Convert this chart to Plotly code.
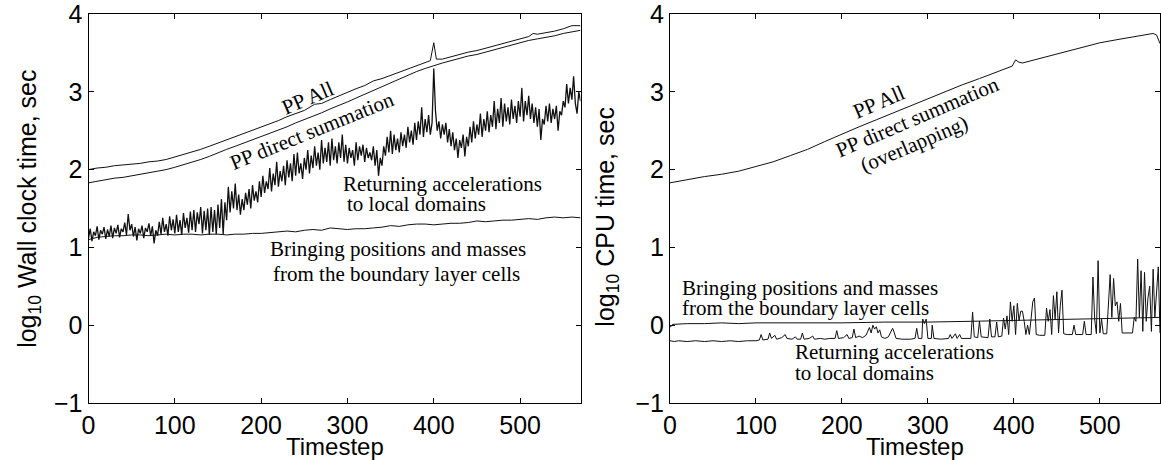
import plotly.graph_objects as go

# ---------------- Wall clock time (left panel) ----------------
wall_pp_all_t = [0, 10, 20, 30, 40, 50, 60, 70, 80, 90, 100, 110, 120, 130, 140, 150, 160, 170, 180, 190,
                 200, 210, 220, 230, 240, 250, 262, 270, 280, 290, 300, 310, 320, 330, 340, 350, 360, 370,
                 380, 390, 396, 400, 403, 410, 420, 430, 440, 450, 460, 470, 480, 490, 500, 510, 515, 520,
                 530, 540, 550, 560, 570]
wall_pp_all = [2.00, 2.02, 2.03, 2.05, 2.06, 2.07, 2.08, 2.10, 2.11, 2.13, 2.16, 2.19, 2.22, 2.26, 2.30, 2.34,
               2.38, 2.42, 2.46, 2.51, 2.55, 2.59, 2.63, 2.68, 2.72, 2.76, 2.84, 2.85, 2.90, 2.95, 2.99, 3.04,
               3.08, 3.14, 3.17, 3.21, 3.25, 3.29, 3.33, 3.37, 3.40, 3.63, 3.42, 3.42, 3.45, 3.48, 3.51, 3.53,
               3.56, 3.59, 3.62, 3.65, 3.68, 3.71, 3.75, 3.74, 3.76, 3.78, 3.81, 3.85, 3.85]

wall_direct_t = list(range(0, 571, 10))
wall_direct = [1.83, 1.85, 1.87, 1.89, 1.90, 1.92, 1.94, 1.96, 1.98, 2.00, 2.03, 2.06, 2.09, 2.13, 2.17, 2.22,
               2.26, 2.30, 2.34, 2.39, 2.43, 2.47, 2.51, 2.55, 2.60, 2.64, 2.69, 2.73, 2.78, 2.82, 2.87, 2.92,
               2.97, 3.02, 3.07, 3.12, 3.17, 3.21, 3.26, 3.30, 3.34, 3.37, 3.40, 3.43, 3.46, 3.48, 3.51, 3.54,
               3.57, 3.60, 3.63, 3.66, 3.68, 3.70, 3.72, 3.75, 3.77, 3.79]

wall_bring_t = list(range(0, 571, 10))
wall_bring = [1.10, 1.13, 1.14, 1.15, 1.15, 1.16, 1.16, 1.15, 1.16, 1.17, 1.16, 1.17, 1.17, 1.16, 1.17, 1.17,
              1.16, 1.17, 1.17, 1.18, 1.18, 1.19, 1.20, 1.21, 1.20, 1.22, 1.23, 1.22, 1.25, 1.24, 1.23, 1.24,
              1.24, 1.25, 1.26, 1.28, 1.27, 1.29, 1.30, 1.30, 1.29, 1.30, 1.31, 1.31, 1.32, 1.34, 1.33, 1.34,
              1.35, 1.35, 1.36, 1.37, 1.36, 1.38, 1.39, 1.38, 1.39, 1.38]

wall_return_t = list(range(0, 571, 2))
wall_return = [
    1.12, 1.24, 1.08, 1.20, 1.15, 1.27, 1.10, 1.22, 1.17, 1.26,
    1.11, 1.23, 1.14, 1.28, 1.12, 1.25, 1.18, 1.29, 1.13, 1.24,
    1.20, 1.32, 1.16, 1.43, 1.22, 1.30, 1.14, 1.26, 1.09, 1.24,
    1.18, 1.28, 1.12, 1.25, 1.20, 1.31, 1.15, 1.27, 1.05, 1.22,
    1.15, 1.33, 1.17, 1.38, 1.20, 1.30, 1.15, 1.40, 1.22, 1.36,
    1.18, 1.42, 1.20, 1.35, 1.16, 1.44, 1.25, 1.38, 1.19, 1.46,
    1.22, 1.48, 1.20, 1.45, 1.30, 1.52, 1.18, 1.47, 1.22, 1.50,
    1.16, 1.52, 1.20, 1.48, 1.17, 1.55, 1.25, 1.62, 1.17, 1.58,
    1.35, 1.78, 1.45, 1.72, 1.50, 1.82, 1.48, 1.68, 1.42, 1.62,
    1.48, 1.70, 1.55, 1.75, 1.50, 1.80, 1.60, 1.72, 1.58, 1.85,
    1.65, 1.92, 1.70, 1.85, 1.75, 2.02, 1.72, 1.95, 1.80, 2.10,
    1.78, 1.98, 1.85, 2.05, 1.80, 2.12, 1.90, 2.08, 1.85, 2.20,
    1.92, 2.22, 1.95, 2.08, 1.88, 2.15, 2.00, 2.25, 1.95, 2.18,
    2.02, 2.30, 2.05, 2.22, 2.00, 2.38, 2.08, 2.28, 2.10, 2.35,
    2.05, 2.40, 2.12, 2.30, 2.08, 2.35, 2.15, 2.45, 2.10, 2.32,
    2.08, 2.28, 2.15, 2.25, 2.05, 2.35, 2.12, 2.30, 2.18, 2.32,
    2.10, 2.28, 2.15, 2.22, 2.12, 2.30, 2.05, 2.25, 1.92, 2.15,
    2.05, 2.30, 2.18, 2.42, 2.22, 2.50, 2.20, 2.45, 2.25, 2.40,
    2.22, 2.48, 2.30, 2.45, 2.28, 2.55, 2.35, 2.50, 2.32, 2.60,
    2.38, 2.62, 2.45, 2.80, 2.42, 2.65, 2.48, 2.70, 2.45, 2.60,
    3.30, 2.75, 2.50, 2.62, 2.40, 2.58, 2.45, 2.60, 2.35, 2.52,
    2.30, 2.48, 2.25, 2.40, 2.15, 2.38, 2.28, 2.45, 2.17, 2.42,
    2.30, 2.55, 2.35, 2.62, 2.40, 2.58, 2.45, 2.72, 2.42, 2.65,
    2.50, 2.75, 2.48, 2.70, 2.55, 2.88, 2.52, 2.78, 2.60, 2.92,
    2.55, 2.85, 2.62, 2.80, 2.58, 2.90, 2.65, 2.82, 2.60, 2.88,
    2.68, 3.05, 2.62, 2.88, 2.70, 2.95, 2.65, 2.85, 2.60, 2.80,
    2.55, 2.78, 2.38, 2.65, 2.58, 2.82, 2.62, 2.85, 2.60, 2.78,
    2.65, 2.82, 2.50, 2.75, 2.70, 2.88, 2.80, 3.10, 2.85, 3.05,
    2.90, 3.20, 2.85, 2.72, 3.00, 2.88,
]

# ---------------- CPU time (right panel) ----------------
cpu_pp_t = [0, 20, 40, 60, 80, 100, 120, 140, 160, 180, 200, 220, 240, 260, 280, 300, 320, 340, 360, 380,
            398, 402, 406, 410, 420, 440, 460, 480, 500, 520, 540, 555, 562, 566, 568, 570]
cpu_pp = [1.83, 1.87, 1.91, 1.94, 1.98, 2.04, 2.10, 2.18, 2.26, 2.36, 2.46, 2.55, 2.64, 2.73, 2.82, 2.92,
          3.00, 3.09, 3.17, 3.25, 3.33, 3.41, 3.38, 3.37, 3.40, 3.45, 3.51, 3.57, 3.63, 3.67, 3.71, 3.74,
          3.75, 3.73, 3.68, 3.62]

cpu_bring_t = [0, 3, 20, 40, 60, 80, 100, 150, 200, 250, 300, 350, 400, 450, 500, 550, 570]
cpu_bring = [-0.03, 0.01, 0.02, 0.02, 0.03, 0.02, 0.03, 0.03, 0.03, 0.04, 0.04, 0.05, 0.06, 0.07, 0.08, 0.09, 0.10]

cpu_return_t = [0, 5, 10, 20, 30, 40, 50, 60, 70, 80, 90, 100, 104, 106, 108, 114, 116, 118, 122, 124,
                130, 134, 136, 142, 146, 148, 152, 154, 156, 162, 166, 168, 175, 180, 186, 192, 194, 196, 202, 206,
                208, 212, 214, 216, 220, 224, 228, 230, 232, 234, 236, 238, 240, 242, 244, 246, 250, 254, 257, 259,
                261, 263, 270, 280, 285, 287, 289, 293, 294, 296, 298, 300, 304, 305, 307, 315, 324, 326, 328, 332,
                334, 337, 339, 345, 350, 352, 354, 358, 360, 362, 370, 372, 374, 378, 380, 382, 386, 388, 390, 392,
                394, 396, 398, 400, 402, 404, 406, 408, 410, 412, 414, 416, 418, 420, 422, 424, 426, 430, 436, 438,
                440, 442, 444, 446, 448, 450, 452, 454, 456, 458, 462, 468, 470, 472, 480, 482, 484, 490, 492, 494,
                496, 498, 500, 502, 504, 508, 510, 512, 514, 516, 518, 520, 522, 524, 526, 530, 534, 538, 540, 542,
                544, 546, 548, 550, 552, 554, 556, 558, 560, 562, 564, 566, 568, 570]
cpu_return = [-0.20, -0.21, -0.20, -0.21, -0.20, -0.21, -0.20, -0.21, -0.20, -0.21, -0.20, -0.20, -0.19, -0.12,
              -0.19, -0.18, -0.10, -0.17, -0.13, -0.18,
              -0.16, -0.12, -0.17, -0.18, -0.15, -0.18, -0.18, -0.10, -0.18, -0.17, -0.14, -0.18, -0.17, -0.18,
              -0.17, -0.17, -0.07, -0.17, -0.16, -0.12,
              -0.17, -0.16, -0.05, -0.16, -0.14, -0.16, -0.13, -0.08, -0.03, -0.10, 0.00, -0.05, -0.02, -0.10,
              -0.06, -0.15, -0.17, -0.15, -0.08, -0.04,
              -0.10, -0.17, -0.18, -0.18, -0.17, -0.04, -0.17, -0.17, 0.08, 0.02, 0.08, -0.17, -0.17, 0.00,
              -0.17, -0.18, -0.17, -0.12, -0.17, -0.11,
              -0.17, -0.12, -0.17, -0.17, -0.17, 0.17, -0.15, -0.16, 0.05, -0.15, -0.16, 0.08, -0.15, -0.15,
              0.04, -0.15, -0.14, 0.09, -0.05, 0.12,
              -0.12, 0.30, 0.05, 0.25, -0.12, 0.28, 0.06, 0.18, 0.18, 0.05, -0.12, 0.00, -0.12, 0.08,
              0.30, 0.35, -0.12, -0.13, -0.13, 0.22,
              0.05, 0.20, -0.12, 0.38, 0.08, 0.43, -0.10, 0.25, 0.45, -0.11, -0.12, -0.12, 0.00, -0.12,
              -0.12, 0.05, -0.12, -0.12, 0.62, 0.08,
              -0.11, 0.83, -0.10, 0.08, -0.11, -0.11, 0.30, 0.65, 0.10, 0.60, 0.25, 0.30, 0.05, 0.28,
              -0.10, -0.10, -0.10, -0.10, 0.10, 0.05,
              0.85, 0.10, 0.70, -0.08, 0.68, 0.05, 0.35, 0.50, -0.08, 0.72, 0.10, 0.45, 0.75, -0.10]

LINE = "#111111"
SANS = "Liberation Sans, Arial, sans-serif"
SERIF = "Liberation Serif, Times New Roman, serif"

fig = go.Figure()


def add_line(t, v, xa, ya, width=1.0):
    fig.add_trace(go.Scatter(x=t, y=v, mode="lines", xaxis=xa, yaxis=ya,
                             line=dict(color=LINE, width=width), showlegend=False,
                             hoverinfo="skip"))


add_line(wall_bring_t, wall_bring, "x", "y")
add_line(wall_return_t, wall_return, "x", "y", 1.3)
add_line(wall_direct_t, wall_direct, "x", "y")
add_line(wall_pp_all_t, wall_pp_all, "x", "y")

add_line(cpu_bring_t, cpu_bring, "x2", "y2")
add_line(cpu_return_t, cpu_return, "x2", "y2")
add_line(cpu_pp_t, cpu_pp, "x2", "y2")

axis_common = dict(
    showline=True, linecolor="black", linewidth=1, mirror="ticks",
    ticks="inside", ticklen=5, tickcolor="black", tickwidth=1,
    showgrid=False, zeroline=False, ticklabeloverflow="allow",
    tickfont=dict(family=SANS, size=25, color="black"),
)

W, H = 1161, 460
fig.update_layout(
    width=W, height=H,
    margin=dict(l=0, r=0, t=12, b=57),
    paper_bgcolor="white", plot_bgcolor="white",
    xaxis=dict(domain=[82 / W, 577 / W], range=[0, 570], tickvals=[0, 100, 200, 300, 400, 500],
               anchor="y", **axis_common),
    yaxis=dict(range=[-1, 4], tickvals=[-1, 0, 1, 2, 3, 4], anchor="x", **axis_common),
    xaxis2=dict(domain=[667 / W, 1160 / W], range=[0, 570], tickvals=[0, 100, 200, 300, 400, 500],
                anchor="y2", **axis_common),
    yaxis2=dict(range=[-1, 4], tickvals=[-1, 0, 1, 2, 3, 4], anchor="x2", **axis_common),
)

ann = []


def label(text, x, y, xr, yr, angle=0, xanchor="left", size=21):
    ann.append(dict(text=text, x=x, y=y, xref=xr, yref=yr, showarrow=False, textangle=angle,
                    xanchor=xanchor, yanchor="middle",
                    font=dict(family=SERIF, size=size, color="black")))


# left panel text
label("PP All", 254, 2.92, "x", "y", -23, "center")
label("PP direct summation", 259, 2.49, "x", "y", -22, "center")
label("Returning accelerations", 293, 1.81, "x", "y")
label("to local domains", 297, 1.56, "x", "y")
label("Bringing positions and masses", 208, 0.98, "x", "y")
label("from the boundary layer cells", 211, 0.66, "x", "y")

# right panel text
label("PP All", 243, 2.87, "x2", "y2", -23, "center")
label("PP direct summation", 288, 2.68, "x2", "y2", -23, "center")
label("(overlapping)", 284, 2.33, "x2", "y2", -23, "center")
label("Bringing positions and masses", 12, 0.48, "x2", "y2")
label("from the boundary layer cells", 12, 0.22, "x2", "y2")
label("Returning accelerations", 143, -0.35, "x2", "y2")
label("to local domains", 143, -0.61, "x2", "y2")

# axis titles
title_font = dict(family=SANS, size=25, color="black")
for xr in ("x domain", "x2 domain"):
    ann.append(dict(text="Timestep", x=0.5, y=-0.112, xref=xr, yref="paper", showarrow=False,
                    xanchor="center", yanchor="middle", font=dict(family=SANS, size=24, color="black")))
ann.append(dict(text="log<sub>10</sub> Wall clock time, sec", x=22 / W, y=0.4987, xref="paper",
                yref="paper", showarrow=False, textangle=-90, xanchor="center", yanchor="middle",
                font=title_font))
ann.append(dict(text="log<sub>10</sub> CPU time, sec", x=604 / W, y=0.48, xref="paper",
                yref="paper", showarrow=False, textangle=-90, xanchor="center", yanchor="middle",
                font=title_font))

fig.update_layout(annotations=ann)

fig.write_html("out.html")
